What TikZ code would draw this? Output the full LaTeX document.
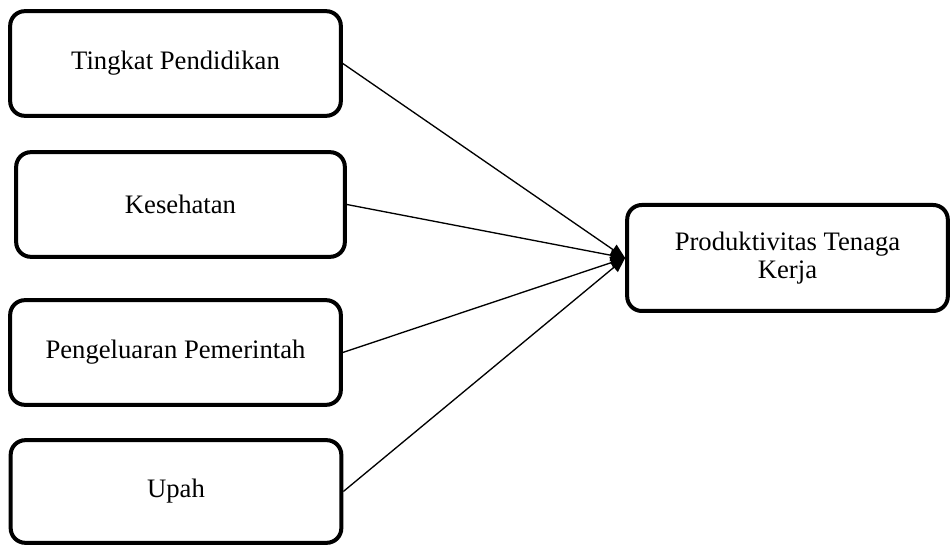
\documentclass[tikz,border=0pt]{standalone}
\usepackage{fontspec}
\setmainfont{Liberation Serif}
\usepackage{tikz}
\usetikzlibrary{arrows.meta,positioning}

\begin{document}
\begin{tikzpicture}[
  x=0.75pt, y=-0.75pt,
  var/.style={draw, line width=3pt, rounded corners=11pt, minimum width=248pt,
              minimum height=78.5pt, font=\fontsize{20}{21.5}\selectfont, align=center},
  arr/.style={-{Triangle[length=11pt,width=9pt]}, line width=1pt},
]
  \useasboundingbox (0,0) rectangle (950,545);

  \node[var] (didik) at (175.5,63.5) {Tingkat Pendidikan};
  \node[var, minimum width=246.5pt] (sehat) at (180.5,204.5) {Kesehatan};
  \node[var] (belanja) at (175.5,352.5) {Pengeluaran Pemerintah};
  \node[var, minimum height=77pt] (upah) at (176,491.5) {Upah};
  \node[var, minimum width=240.5pt, minimum height=79.5pt] (prod) at (787.5,258)
    {Produktivitas Tenaga\\Kerja};

  \draw[arr] (didik.east) -- (prod.west);
  \draw[arr] (sehat.east) -- (prod.west);
  \draw[arr] (belanja.east) -- (prod.west);
  \draw[arr] (upah.east) -- (prod.west);
\end{tikzpicture}
\end{document}
